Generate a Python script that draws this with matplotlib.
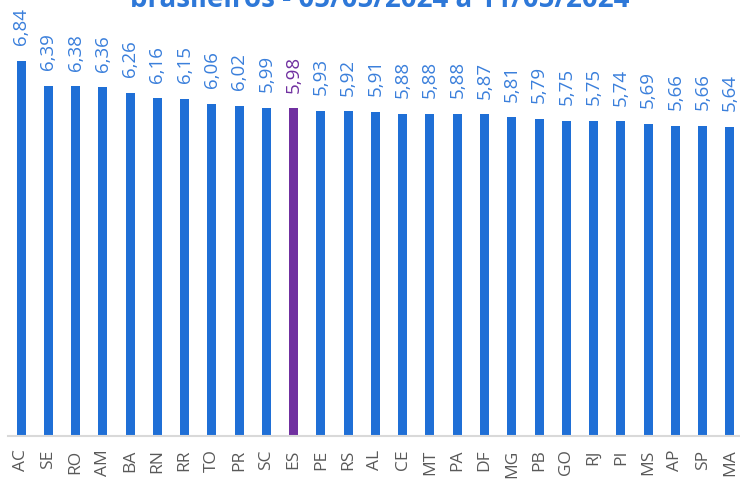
import matplotlib
matplotlib.use("Agg")
import matplotlib.pyplot as plt

states = ["AC", "SE", "RO", "AM", "BA", "RN", "RR", "TO", "PR", "SC", "ES", "PE", "RS", "AL",
          "CE", "MT", "PA", "DF", "MG", "PB", "GO", "RJ", "PI", "MS", "AP", "SP", "MA"]
values = [6.84, 6.39, 6.38, 6.36, 6.26, 6.16, 6.15, 6.06, 6.02, 5.99, 5.98, 5.93, 5.92, 5.91,
          5.88, 5.88, 5.88, 5.87, 5.81, 5.79, 5.75, 5.75, 5.74, 5.69, 5.66, 5.66, 5.64]
highlight = "ES"
title = "Preço médio da gasolina comum nos estados\nbrasileiros - 05/05/2024 a 11/05/2024"

blue = "#1F6FD6"
label_blue = "#3A7FDB"
purple = "#7030A0"

plt.rcParams['font.family'] = ['Open Sans', 'DejaVu Sans']

fig = plt.figure(figsize=(7.40, 4.81), dpi=100)
W, H = 740, 481
ax = fig.add_axes([8 / W, (H - 437) / H, 732 / W, 437 / H])

x = list(range(len(states)))
colors = [purple if s == highlight else blue for s in states]
ax.bar(x, values, width=0.33, color=colors, zorder=2)

for i, (s, v) in enumerate(zip(states, values)):
    c = purple if s == highlight else label_blue
    ax.annotate(f"{v:.2f}".replace(".", ","), (i, v), xytext=(0, 12), textcoords="offset points",
                rotation=90, ha="center", va="bottom", fontsize=13.5, color=c)

ax.set_xlim(-0.477, 26.37)
ax.set_ylim(0, 437 / 54.82)
ax.set_xticks(x)
ax.set_xticklabels(states, rotation=90, fontsize=12.5, color="#595959")
ax.tick_params(axis="x", length=0, pad=9)
ax.set_yticks([])
for sp in ["top", "right", "left"]:
    ax.spines[sp].set_visible(False)
ax.spines["bottom"].set_color("#D9D9D9")
ax.spines["bottom"].set_linewidth(1.5)

fig.text(380 / W, 1 - 7 / H, title, ha="center", va="baseline", fontsize=20,
         fontweight="bold", color="#2E78D8", multialignment="center")

fig.savefig("out.png", dpi=100)
